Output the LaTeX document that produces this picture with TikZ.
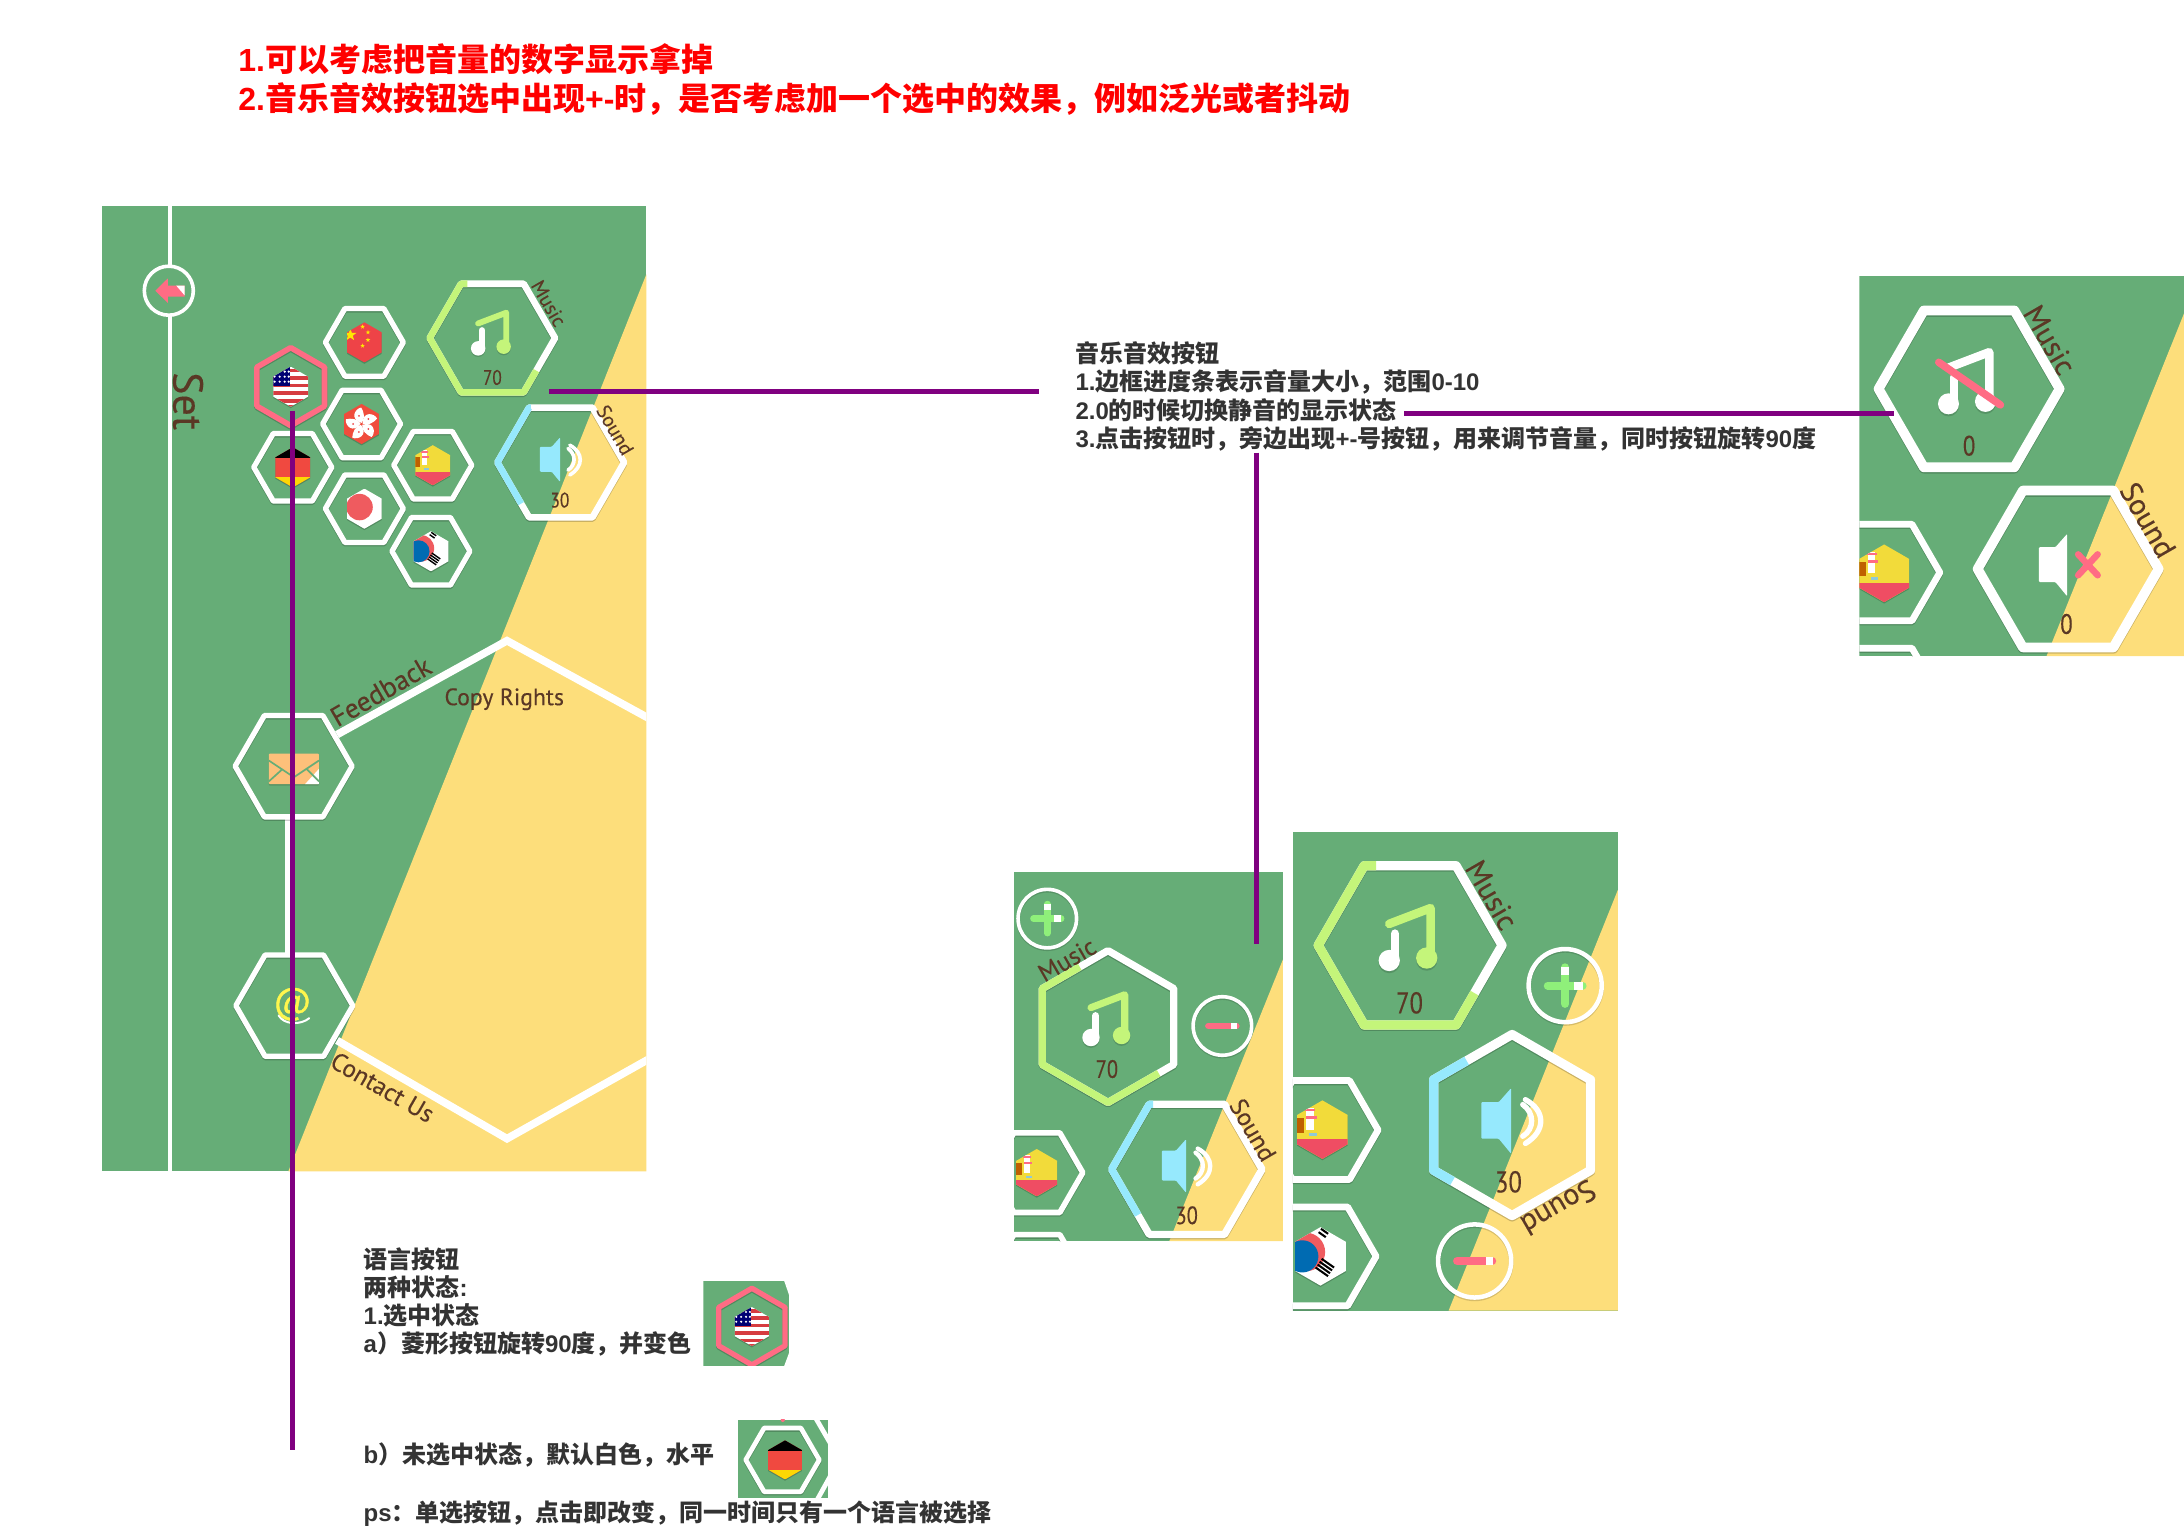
\documentclass[tikz,border=0pt]{standalone}
\usepackage{fontspec}
\setmainfont{Liberation Sans}
\newfontfamily\cjk{Noto Sans CJK SC}
\newfontfamily\din[FakeBold=0.25]{PT Sans}
\newfontfamily\dinn[FakeBold=0.3,FakeStretch=0.82]{PT Sans}
\newfontfamily\dinat[FakeBold=1.2]{PT Sans}
\usetikzlibrary{calc}
\definecolor{gr}{HTML}{66AD77}
\definecolor{ye}{HTML}{FDDE7B}
\definecolor{pk}{HTML}{FF6C84}
\definecolor{lg}{HTML}{C4F57A}
\definecolor{lb}{HTML}{96E9FD}
\definecolor{uib}{HTML}{5A3825}
\definecolor{pu}{HTML}{800080}
\definecolor{nt}{HTML}{333333}
\definecolor{fr}{HTML}{EE4347}
\definecolor{jpr}{HTML}{EF5B5F}
\definecolor{esy}{HTML}{F2DB3A}
\definecolor{esr}{HTML}{EF4D63}
\definecolor{mail}{HTML}{FDC07A}
\definecolor{plusg}{HTML}{8FF07A}
\tikzset{
  ui/.style={font=\din\fontsize{#1}{#1}\selectfont,text=uib,inner sep=0pt},
  un/.style={font=\dinn\fontsize{#1}{#1}\selectfont,text=uib,inner sep=0pt},
  prg/.style={line width={#1*1.393pt},line join=round},
  pline/.style={draw=pu,line width=4.6pt},
  note/.style={font=\bfseries\fontsize{24}{24}\selectfont,text=nt,inner sep=0pt,anchor=base west},
  redn/.style={font=\bfseries\fontsize{32}{32}\selectfont,text=red,inner sep=0pt,anchor=base west},
}
\newcommand{\C}[1]{{\cjk #1}}
% hexagon: [colour]{cx}{cy}{R}{first angle}{line width}
\newcommand{\hexx}[6][white]{%
  \draw[shift={(#2,#3+1)},black,opacity=.2,prg=#6] (#5:#4) -- ({#5+60}:#4) -- ({#5+120}:#4) -- ({#5+180}:#4) -- ({#5+240}:#4) -- ({#5+300}:#4) -- cycle;
  \draw[shift={(#2,#3)},#1,prg=#6] (#5:#4) -- ({#5+60}:#4) -- ({#5+120}:#4) -- ({#5+180}:#4) -- ({#5+240}:#4) -- ({#5+300}:#4) -- cycle;}
% flag: {cx}{cy}{R}{content}
\newcommand{\flagb}[4]{%
  \fill[shift={(#1,#2+1)},black,opacity=.2] (30:#3) -- (90:#3) -- (150:#3) -- (210:#3) -- (270:#3) -- (330:#3) -- cycle;
  \begin{scope}[shift={(#1,#2)},scale=#3]
    \clip (30:1) -- (90:1) -- (150:1) -- (210:1) -- (270:1) -- (330:1) -- cycle;
    #4
  \end{scope}}
\newcommand{\starat}[3]{\fill[yellow!90!orange,shift={(#1,#2)}] (-90:#3) -- (-54:.4*#3) -- (-18:#3) -- (18:.4*#3) -- (54:#3) -- (90:.4*#3) -- (126:#3) -- (162:.4*#3) -- (198:#3) -- (234:.4*#3) -- cycle;}
\newcommand{\fUS}{\fill[white] (-1,-1) rectangle (1,1);
  \foreach \yy in {-.9,-.52,-.14,.24,.62}{\fill[fr!90!black] (-1,\yy) rectangle (1,\yy+.18);}
  \fill[fr!90!black] (-1,.9) rectangle (1,1);
  \fill[blue!45!black] (-1,-1) rectangle (-.02,-.02);
  \foreach \xa in {-.8,-.55,-.3,-.1}{\foreach \ya in {-.75,-.5,-.25}{\fill[white] (\xa,\ya) circle (.06);}}}
\newcommand{\fCN}{\fill[fr] (-1,-1) rectangle (1,1);
  \starat{-.7}{-.37}{.32}\starat{-.09}{-.78}{.12}\starat{.18}{-.5}{.12}\starat{.18}{-.12}{.12}\starat{-.09}{.17}{.12}}
\newcommand{\fHK}{\fill[fr!85!orange] (-1,-1) rectangle (1,1);
  \foreach \aa in {0,72,144,216,288}{\fill[white,rotate=\aa] (0,-.05) .. controls (-.62,-.25) and (-.32,-.78) .. (-.02,-.82) .. controls (.12,-.6) and (.2,-.25) .. (0,-.05);}
  \foreach \aa in {36,108,180,252,324}{\fill[fr] (\aa:.42) circle (.05);}}
\newcommand{\fDE}{\fill[fr!90!orange] (-1,-1) rectangle (1,1);\fill[black] (-1,-1) rectangle (1,-.45);\fill[yellow!75!orange] (-1,.5) rectangle (1,1);}
\newcommand{\fES}{\fill[esy] (-1,-1) rectangle (1,1);\fill[esr] (-1,.33) rectangle (1,1);
  \fill[orange!75!black] (-.88,-.4) rectangle (-.62,.1);\fill[white] (-.55,-.75) rectangle (-.3,0);\fill[pk] (-.55,-.45) rectangle (-.2,-.35);\fill[pk] (-.6,-.7) rectangle (-.25,-.62);\fill[lb!70!gray] (-.45,.12) rectangle (-.2,.22);}
\newcommand{\fJP}{\fill[white] (-1,-1) rectangle (1,1);\fill[jpr] (-.24,-.08) circle (.66);}
\newcommand{\fKR}{\fill[white] (-1,-1) rectangle (1,1);\fill[jpr] (-.5,-.15) circle (.66);\fill[blue!40!cyan!70!black] (-.62,.0) circle (.55);
  \begin{scope}[shift={(.15,.38)},rotate=-35]\foreach \yy in {-.18,-.06,.06,.18}{\fill[black] (-.26,\yy-.035) rectangle (.26,\yy+.035);}\end{scope}
  \begin{scope}[shift={(.1,-.8)},rotate=-35]\foreach \yy in {-.07,.07}{\fill[black] (-.15,\yy-.035) rectangle (.15,\yy+.035);}\end{scope}}
% music note
\newcommand{\noteic}[5]{\begin{scope}[shift={(#1,#2)},scale=#3]
  \fill[black,opacity=.15] (-10.2,8.4) circle (5.2) (8.1,7.2) circle (5.2);
  \draw[#4,line width={4.2*1.393*#3 pt},line cap=round] (-7.4,-5.7) -- (-7.4,7.4);
  \fill[#4] (-10.2,7.4) circle (5.2);
  \draw[#5,line width={4.2*1.393*#3 pt},line cap=round,line join=round] (-10.2,-10.5) -- (10,-18.2) -- (10,6.2);
  \fill[#5] (8.1,6.2) circle (5.2);
\end{scope}}
% speaker
\newcommand{\spk}[4]{\begin{scope}[shift={(#1,#2)},scale=#3]
  \fill[#4,rounded corners=1pt] (-15,-11.2) -- (-6.5,-11.2) -- (-.5,-18) -- (-.5,14) -- (-6.5,6.7) -- (-15,6.7) -- cycle;
\end{scope}}
\newcommand{\wav}[3]{\begin{scope}[shift={(#1,#2)},scale=#3]
  \draw[white,line width={2.6*1.393*#3 pt},line cap=round] (5.2,-10) .. controls (11,-6) and (11,2) .. (5.2,5.5);
  \draw[white,line width={2.6*1.393*#3 pt},line cap=round] (6.5,-12.4) .. controls (16.5,-7) and (16.5,3) .. (6.5,9);
\end{scope}}
\newcommand{\plusic}[3]{%
  \draw[shift={(#1,#2+1)},black,opacity=.15,line width={2.6*1.393*#3 pt}] (0,0) circle (21*#3);
  \draw[shift={(#1,#2)},white,line width={2.6*1.393*#3 pt}] (0,0) circle (21*#3);
  \begin{scope}[shift={(#1,#2)},scale=#3]
  \draw[plusg,line width={4.6*1.393*#3 pt},line cap=round] (-10,0) -- (10,0) (0,-10.5) -- (0,10.5);
  \draw[white,line width={4.6*1.393*#3 pt},line cap=butt] (5,0) -- (10,0) (0,-10.5) -- (0,-6);
  \end{scope}}
\newcommand{\minusic}[3]{%
  \draw[shift={(#1,#2+1)},black,opacity=.15,line width={2.6*1.393*#3 pt}] (0,0) circle (21*#3);
  \draw[shift={(#1,#2)},white,line width={2.6*1.393*#3 pt}] (0,0) circle (21*#3);
  \begin{scope}[shift={(#1,#2)},scale=#3]
  \draw[pk,line width={4.8*1.393*#3 pt},line cap=round] (-10,0) -- (10,0);
  \draw[white,line width={4.8*1.393*#3 pt}] (6.5,0) -- (10.5,0);
  \end{scope}}
\begin{document}
\begin{tikzpicture}[x=1.39286pt,y=-1.39286pt]
\useasboundingbox (0,0) rectangle (1568,1095.6);
%% ---------- panel A
\begin{scope}
\clip (73,148) rectangle (464,841);
\fill[gr] (73,148) rectangle (464,841);
\fill[ye] (464,197) -- (207,841) -- (464,841) -- cycle;
\draw[white,line width=4.6pt] (122,148) -- (122,841);
\draw[white,prg=5.5,line join=miter] (242,527.4) -- (364,460) -- (470,518);
\draw[white,prg=5.5,line join=miter] (242,747) -- (364,817.5) -- (470,758);
\draw[white,line width=5pt] (206.3,588) -- (206.3,686);
\fill[gr] (121.2,208.7) circle (18);
\draw[white,line width=3.6pt] (121.2,208.7) circle (17.6);
\fill[pk,line join=round] (111.5,208.7) -- (120.6,199.8) -- (120.6,205) -- (132.5,205) -- (132.5,213) -- (120.6,213) -- (120.6,217.6) -- cycle;
\fill[white] (126.5,205) -- (132.5,205) -- (132.5,212) -- cycle;
\node[ui=42,rotate=-90] (setl) at (135,288) {Set};
% language hexes
\hexx{261.6}{245.8}{28}{0}{3.8}
\hexx{259.6}{304.4}{28}{0}{3.8}
\hexx{210.2}{335.5}{28}{0}{3.8}
\hexx{310.7}{334}{28}{0}{3.8}
\hexx{261.6}{365.2}{28}{0}{3.8}
\hexx{309.4}{395.8}{28}{0}{3.8}
\hexx[pk]{208.7}{277.6}{28}{30}{4}
\flagb{261.6}{245.8}{14.4}{\fCN}
\flagb{259.6}{304.4}{14.4}{\fHK}
\flagb{210.2}{335.5}{14.4}{\fDE}
\flagb{310.7}{334}{14.4}{\fES}
\flagb{261.6}{365.2}{14.4}{\fJP}
\flagb{309.4}{395.8}{14.4}{\fKR}
\flagb{208.7}{277.6}{14.4}{\fUS}
% music
\hexx{353.5}{242.7}{45}{0}{4.7}
\draw[shift={(353.5,242.7)},lg,prg=4.7] ($(240:45)!.1!(300:45)$) -- (240:45) -- (180:45) -- (120:45) -- (60:45) -- ($(60:45)!.4!(0:45)$);
\noteic{353.5}{242.7}{1}{white}{lg}
\node[un=21] (am) at (353.5,271) {70};
\node[ui=20,rotate=-60] (amu) at (394,217.8) {Music};
% sound
\hexx{402.6}{332}{45.5}{0}{4.7}
\draw[shift={(402.6,332)},lb,prg=4.7] ($(240:45.5)!.03!(300:45.5)$) -- (240:45.5) -- (180:45.5) -- ($(180:45.5)!.75!(120:45.5)$);
\spk{402.6}{332}{1}{lb}
\wav{402.6}{332}{1}
\node[un=21] (as) at (402,359) {30};
\node[ui=20,rotate=-60] (asu) at (441.7,308.7) {Sound};
% feedback, contact
\hexx{210.8}{550.1}{42}{0}{3.8}
\hexx{211.3}{722}{42}{0}{3.8}
\fill[black,opacity=.15,rounded corners=1pt] (193,542) rectangle (229,564);
\fill[mail,rounded corners=1pt] (193,541) rectangle (229,563);
\fill[white] (219,563) -- (229,552) -- (229,563) -- cycle;
\draw[gr,line width=1.7pt] (193,546) -- (211,558) -- (229,546) (193,561) -- (203,552) (229,561) -- (220,552);
\draw[white,line width=2pt,line cap=round] (200,729) .. controls (204,736) and (216,736) .. (222,731);
\node[inner sep=0pt,text=yellow!70!white,font=\dinat\fontsize{36}{36}\selectfont] (at) at (210,721) {@};
\node[ui=27.5,rotate=30] (fb) at (273.4,496.5) {Feedback};
\node[ui=23.7] (cr) at (362,502) {Copy Rights};
\node[ui=25,rotate=-30] (cu) at (274.7,780.5) {Contact Us};
\end{scope}
%% ---------- panel B
\begin{scope}
\clip (728,626) rectangle (921,891);
\fill[gr] (728,626) rectangle (921,891);
\fill[ye] (921,689) -- (839.5,891) -- (921,891) -- cycle;
\plusic{751.9}{659.5}{1}
\minusic{877.6}{736.6}{1}
\hexx{795.5}{737}{54.5}{30}{5.2}
\draw[shift={(795.5,737)},lg,prg=5.2] ($(270:54.5)!.43!(210:54.5)$) -- (210:54.5) -- (150:54.5) -- (90:54.5) -- ($(90:54.5)!.77!(30:54.5)$);
\noteic{795.5}{736}{1.2}{white}{lg}
\node[un=25] (bm) at (794.7,767.5) {70};
\node[ui=25,rotate=30] (bmu) at (766,689) {Music};
\hexx{744.4}{841.9}{33}{0}{4}
\hexx{744.4}{915}{33}{0}{4}
\flagb{744.3}{841.9}{17}{\fES}
\hexx{852.1}{839.5}{54}{0}{5.2}
\draw[shift={(852.1,839.5)},lb,prg=5.2] ($(240:54)!.05!(300:54)$) -- (240:54) -- (180:54) -- ($(180:54)!.7!(120:54)$);
\spk{852.1}{839.5}{1.2}{lb}
\wav{852.1}{839.5}{1.2}
\node[un=25] (bs) at (852,872.5) {30};
\node[ui=25,rotate=-60] (bsu) at (899.6,811.2) {Sound};
\end{scope}
%% ---------- panel C
\begin{scope}
\clip (928,597) rectangle (1161.5,941);
\fill[gr] (928,597) rectangle (1161.5,941);
\fill[ye] (1161.5,639) -- (1040,941) -- (1161.5,941) -- cycle;
\plusic{1123.7}{707.6}{1.25}
\minusic{1058.7}{905.3}{1.25}
\hexx{1012.4}{678.7}{66}{0}{6.6}
\draw[shift={(1012.4,678.7)},lg,prg=6.6] ($(240:66)!.13!(300:66)$) -- (240:66) -- (180:66) -- (120:66) -- (60:66) -- ($(60:66)!.4!(0:66)$);
\noteic{1012.4}{678.7}{1.47}{white}{lg}
\node[un=30] (cm) at (1012,720) {70};
\node[ui=30,rotate=-60] (cmu) at (1071,642.5) {Music};
\hexx{948.4}{811.3}{41}{0}{4.8}
\hexx{947}{902}{41}{0}{4.8}
\flagb{949.4}{811}{21}{\fES}
\flagb{948}{902}{21}{\fKR}
\hexx{1085.6}{807.7}{65}{30}{6.6}
\draw[shift={(1085.6,807.7)},lb,prg=6.6] ($(270:65)!.58!(210:65)$) -- (210:65) -- (150:65) -- ($(150:65)!.24!(90:65)$);
\spk{1085.6}{807.7}{1.47}{lb}
\wav{1085.6}{807.7}{1.47}
\node[un=30] (cs) at (1083,848.5) {30};
\node[ui=30,rotate=210] (csu) at (1119,867) {Sound};
\end{scope}
%% ---------- panel D
\begin{scope}
\clip (1335,198) rectangle (1568,471);
\fill[gr] (1335,198) rectangle (1568,471);
\fill[ye] (1568,225) -- (1469.3,471) -- (1568,471) -- cycle;
\hexx{1413.7}{279.2}{65}{0}{7}
\noteic{1413.7}{279.2}{1.45}{white}{white}
\draw[pk,line width=7.5pt,line cap=round] (1391.9,260.1) -- (1436.2,290.7);
\node[un=28] (dm) at (1413.7,320) {0};
\node[ui=30,rotate=-60] (dmu) at (1471.7,244) {Music};
\hexx{1352.7}{411}{40}{0}{4.8}
\hexx{1352.7}{500}{40}{0}{4.8}
\flagb{1352.7}{411.6}{20.7}{\fES}
\hexx{1484.8}{408.5}{65}{0}{7}
\spk{1484.8}{408.5}{1.4}{white}
\draw[pk,line width=6.5pt,line cap=round] (1492,398) -- (1506,413) (1506,398) -- (1492,413);
\node[un=28] (ds) at (1483.6,448) {0};
\node[ui=30,rotate=-60] (dsu) at (1542.2,373.3) {Sound};
\end{scope}
%% ---------- thumbnails
\begin{scope}
\clip (505,919.6) rectangle (566.6,980.7);
\fill[gr] (505,919.6) rectangle (566.6,980.7);
\fill[white] (563,919.6) -- (566.6,919.6) -- (566.6,930) -- cycle;
\fill[white] (566.6,971) -- (563,980.7) -- (566.6,980.7) -- cycle;
\hexx[pk]{539.8}{952.4}{27.5}{30}{3.8}
\flagb{539.8}{952.4}{14}{\fUS}
\end{scope}
\begin{scope}
\clip (529.6,1019.4) rectangle (594.6,1075.2);
\fill[gr] (529.6,1019.4) rectangle (594.6,1075.2);
\fill[pk] (562,1019.4) circle (1.5);
\draw[white,prg=3.4] (585,1017) -- (596,1036);
\draw[white,prg=3.4] (596,1060) -- (586,1078);
\hexx{561.8}{1048.1}{26.4}{0}{3.4}
\flagb{563.6}{1048.1}{14}{\fDE}
\end{scope}
%% ---------- purple connectors
\coordinate (p1a) at (210,295);
\coordinate (p1b) at (210,1041);
\coordinate (p2a) at (394,281);
\coordinate (p2b) at (746,281);
\coordinate (p3a) at (1008,297);
\coordinate (p3b) at (1360,297);
\coordinate (p4a) at (902,325);
\coordinate (p4b) at (902,678);
\draw[pline] (p1a) -- (p1b);
\draw[pline] (p2a) -- (p2b);
\draw[pline] (p3a) -- (p3b);
\draw[pline] (p4a) -- (p4b);
%% ---------- texts
\node[redn] (r1) at (171,51) {1.\C{可以考虑把音量的数字显示拿掉}};
\node[redn] (r2) at (171,79) {2.\C{音乐音效按钮选中出现}+-\C{时，是否考虑加一个选中的效果，例如泛光或者抖动}};
\node[note] (t1) at (772,260) {\C{音乐音效按钮}};
\node[note] (t2) at (772,280) {1.\C{边框进度条表示音量大小，范围}0-10};
\node[note] (t3) at (772,301) {2.0\C{的时候切换静音的显示状态}};
\node[note] (t4) at (772,321) {3.\C{点击按钮时，旁边出现}+-\C{号按钮，用来调节音量，同时按钮旋转}90\C{度}};
\node[note] (l1) at (261,911) {\C{语言按钮}};
\node[note] (l2) at (261,931) {\C{两种状态}:};
\node[note] (l3) at (261,951) {1.\C{选中状态}};
\node[note] (l4) at (261,971) {a\C{）菱形按钮旋转}90\C{度，并变色}};
\node[note] (l5) at (261,1051) {b\C{）未选中状态，默认白色，水平}};
\node[note] (l6) at (261,1092) {ps\C{：单选按钮，点击即改变，同一时间只有一个语言被选择}};
\end{tikzpicture}
\end{document}
